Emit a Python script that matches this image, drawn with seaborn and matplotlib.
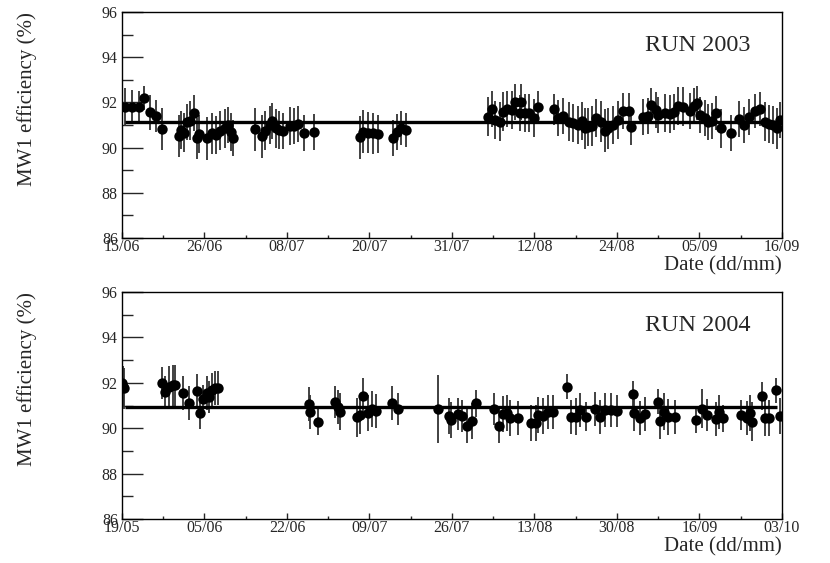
import numpy as np
import pandas as pd
import matplotlib
matplotlib.use("Agg")
import matplotlib.pyplot as plt
import seaborn as sns

# ---- RUN 2003 (x = days since 15/06) ----
top_day = [0.4, 1.4, 2.4, 3.1, 4.0, 4.8, 5.7,
           8.0, 8.3, 8.7, 9.2, 9.6, 10.2, 10.5, 10.9,
           12.0, 12.7, 13.2, 13.8, 14.5, 15.0, 15.4, 15.7,
           18.8, 19.7, 20.1, 20.8, 21.2, 21.7, 22.1, 22.7,
           23.7, 24.2, 24.8, 25.6, 27.0,
           33.5, 34.0, 34.7, 35.4, 36.1,
           38.2, 38.7, 39.3, 40.0,
           51.6, 52.2, 52.6, 53.3, 53.7, 54.3, 54.9, 55.4,
           56.1, 56.2, 56.8, 57.4, 58.0, 58.7,
           60.9, 61.5, 62.2, 63.0, 63.6, 64.2, 64.8, 65.2,
           65.7, 66.3, 66.8, 67.5, 68.1, 68.5, 69.2, 69.9,
           70.6, 71.4, 71.8, 73.4, 74.1, 74.6, 75.3, 75.6,
           76.5, 77.2, 77.8, 78.4, 79.1, 80.0, 80.6, 81.0,
           81.4, 82.1, 82.6, 83.1, 83.7, 84.4, 85.8, 87.0,
           87.7, 88.4, 89.2, 89.9, 90.6, 91.2, 91.7, 92.3, 92.8]
top_eff = [91.81, 91.80, 91.78, 92.18, 91.56, 91.40, 90.82,
           90.51, 90.78, 90.66, 91.15, 91.19, 91.54, 90.41, 90.60,
           90.41, 90.63, 90.56, 90.75, 90.85, 91.00, 90.70, 90.41,
           90.81, 90.51, 90.75, 91.00, 91.18, 90.85, 90.78, 90.75,
           90.96, 90.96, 91.03, 90.63, 90.70,
           90.45, 90.70, 90.66, 90.63, 90.60,
           90.41, 90.70, 90.85, 90.78,
           91.37, 91.69, 91.22, 91.15, 91.59, 91.69, 91.66, 92.03,
           91.52, 92.03, 91.52, 91.54, 91.30, 91.81,
           91.69, 91.30, 91.40, 91.15, 91.08, 91.00, 91.18, 90.85,
           90.92, 90.96, 91.30, 91.15, 90.75, 90.85, 91.00, 91.22,
           91.63, 91.63, 90.92, 91.37, 91.40, 91.88, 91.66, 91.44,
           91.54, 91.49, 91.59, 91.84, 91.81, 91.63, 91.84, 91.96,
           91.44, 91.30, 91.15, 91.19, 91.52, 90.85, 90.66, 91.25,
           91.00, 91.37, 91.63, 91.69, 91.15, 91.05, 91.00, 90.85, 91.22]
top_err = [0.84, 0.77, 0.74, 0.53, 0.77, 0.70, 0.92,
           0.92, 0.85, 0.85, 0.80, 0.85, 0.80, 0.90, 0.85,
           0.95, 0.90, 0.85, 0.85, 0.85, 0.80, 0.85, 0.80,
           0.95, 0.95, 0.85, 0.85, 0.80, 0.85, 0.85, 0.80,
           0.85, 0.80, 0.80, 0.80, 0.80,
           0.95, 0.95, 0.90, 0.90, 0.85,
           0.80, 0.80, 0.75, 0.75,
           0.85, 0.80, 0.85, 0.85, 0.85, 0.80, 0.85, 0.80,
           0.80, 0.80, 0.85, 0.85, 0.85, 0.70,
           0.70, 0.80, 0.80, 0.85, 0.85, 0.85, 0.85, 0.90,
           0.85, 0.90, 0.85, 0.90, 0.95, 0.90, 0.85, 0.85,
           0.80, 0.80, 0.80, 0.80, 0.80, 0.75, 0.80, 0.80,
           0.85, 0.85, 0.80, 0.85, 0.85, 0.80, 0.80, 0.75,
           0.80, 0.80, 0.80, 0.80, 0.75, 0.85, 0.80, 0.80,
           0.80, 0.80, 0.75, 0.75, 0.85, 0.85, 0.85, 0.90, 0.80]
top_fit = 91.15
top_fit_range = [0.4, 93.0]
top_span = 93.0
top_ticklabels = ["15/06", "26/06", "08/07", "20/07", "31/07",
                  "12/08", "24/08", "05/09", "16/09"]

# ---- RUN 2004 (x = days since 19/05) ----
bot_day = [0.1, 0.3, 0.4,
           8.2, 8.9, 9.8, 10.5, 11.0, 12.7, 13.9, 15.6, 16.2, 16.9, 17.6, 18.0, 18.6, 19.3, 20.0,
           38.9, 39.1, 40.7, 44.2, 44.9, 45.2,
           48.8, 49.4, 50.1, 51.1, 51.8, 52.7, 56.0, 57.4,
           65.7, 67.8, 68.4, 69.8, 70.6, 71.6, 72.6, 73.4,
           77.2, 78.3, 79.1, 80.0, 80.5, 82.3, 84.9, 85.9, 86.4, 87.4, 88.5, 89.5,
           92.3, 93.3, 94.2, 95.1, 96.4, 98.2, 99.2, 100.3, 101.6, 102.7,
           106.0, 106.3, 107.5, 108.6,
           111.2, 111.8, 112.5, 113.4, 114.8,
           119.1, 120.5, 121.4, 123.3, 124.0, 124.8,
           128.6, 129.7, 130.3, 130.9, 132.8, 133.5, 134.4, 135.7, 136.7]
bot_eff = [92.00, 91.83, 91.75,
           91.98, 91.61, 91.83, 91.90, 91.90, 91.56, 91.10, 91.65, 90.66, 91.27, 91.56, 91.36, 91.68, 91.78, 91.78,
           91.05, 90.73, 90.29, 91.17, 90.95, 90.73,
           90.48, 90.58, 91.42, 90.68, 90.86, 90.77, 91.10, 90.86,
           90.86, 90.54, 90.36, 90.63, 90.54, 90.10, 90.33, 91.10,
           90.83, 90.10, 90.63, 90.68, 90.44, 90.44, 90.24, 90.24, 90.58, 90.54, 90.73, 90.73,
           91.83, 90.48, 90.51, 90.80, 90.51, 90.86, 90.51, 90.80, 90.80, 90.76,
           91.51, 90.68, 90.44, 90.63,
           91.17, 90.33, 90.73, 90.48, 90.48,
           90.36, 90.86, 90.58, 90.39, 90.73, 90.44,
           90.58, 90.44, 90.68, 90.29, 91.42, 90.44, 90.44, 91.68, 90.54]
bot_err = [0.95, 0.90, 0.90,
           0.70, 0.70, 0.90, 0.90, 0.90, 0.75, 0.75, 0.75, 0.70, 0.65, 0.75, 0.70, 0.75, 0.75, 0.75,
           0.75, 0.75, 0.60, 0.70, 0.75, 0.80,
           0.85, 0.85, 0.80, 0.80, 0.80, 0.75, 0.75, 0.70,
           1.50, 0.80, 0.80, 0.70, 0.70, 0.75, 0.80, 0.60,
           0.70, 0.75, 0.80, 0.80, 0.80, 0.75, 0.80, 0.80, 0.80, 0.80, 0.75, 0.75,
           0.55, 0.75, 0.80, 0.75, 0.65, 0.75, 0.75, 0.75, 0.75, 0.70,
           0.55, 0.80, 0.75, 0.75,
           0.55, 0.80, 0.80, 0.80, 0.75,
           0.55, 0.85, 0.70, 0.75, 0.75, 0.60,
           0.65, 0.75, 0.80, 0.85, 0.60, 0.80, 0.80, 0.55, 0.80]
bot_fit = 90.95
bot_fit_range = [0.6, 135.9]
bot_span = 137.0
bot_ticklabels = ["19/05", "05/06", "22/06", "09/07", "26/07",
                  "13/08", "30/08", "16/09", "03/10"]

y_min, y_max = 86, 96

sns.set_style("ticks")
plt.rcParams['font.family'] = ['Liberation Serif', 'DejaVu Serif']

fig = plt.figure(figsize=(8.3, 5.63), dpi=100)
ax_top = fig.add_axes([0.147, 0.5773, 0.795, 0.4014])
ax_bot = fig.add_axes([0.147, 0.0782, 0.795, 0.4031])


def draw_panel(ax, days, eff, err, fit, fit_range, span, ticklabels, run_label):
    df = pd.DataFrame({'day': days, 'eff': eff, 'err': err})
    # vertical error bars, then the filled dots on top
    ax.errorbar(df['day'], df['eff'], yerr=df['err'], fmt='none',
                ecolor='#333333', elinewidth=1.3, capsize=0, zorder=2)
    sns.scatterplot(data=df, x='day', y='eff', ax=ax, s=56, color='black',
                    edgecolor='black', linewidth=0, zorder=3, legend=False)
    # constant fit over the run
    ax.hlines(fit, fit_range[0], fit_range[1], color='black', linewidth=2.4, zorder=4)

    ax.set_xlim(0, span)
    ax.set_ylim(y_min, y_max)
    ax.set_xticks(np.linspace(0, span, 9))
    ax.set_xticklabels(ticklabels)
    ax.set_xticks(np.linspace(0, span, 17), minor=True)
    ax.set_yticks(np.arange(86, 97, 2))
    ax.set_yticks(np.arange(87, 96, 2), minor=True)
    ax.tick_params(axis='both', which='both', direction='in', labelsize=11.5,
                   top=False, right=False, width=1)
    ax.tick_params(axis='y', which='major', length=15, pad=3)
    ax.tick_params(axis='y', which='minor', length=8)
    ax.tick_params(axis='x', which='major', length=4.5, pad=1)
    ax.tick_params(axis='x', which='minor', length=2.5)
    for sp in ax.spines.values():
        sp.set_linewidth(1)
        sp.set_color('black')

    ax.set_ylabel('MW1 efficiency (%)', fontsize=15, loc='top')
    ax.yaxis.set_label_coords(-0.129, 1.0)
    ax.set_xlabel('Date (dd/mm)', fontsize=15, loc='right')
    ax.xaxis.set_label_coords(1.0, -0.082)
    ax.text(0.873, 0.853, run_label, transform=ax.transAxes,
            ha='center', va='center', fontsize=17.5)


draw_panel(ax_top, top_day, top_eff, top_err, top_fit, top_fit_range,
           top_span, top_ticklabels, 'RUN 2003')
draw_panel(ax_bot, bot_day, bot_eff, bot_err, bot_fit, bot_fit_range,
           bot_span, bot_ticklabels, 'RUN 2004')

plt.savefig('out.png', dpi=100)
plt.close()
